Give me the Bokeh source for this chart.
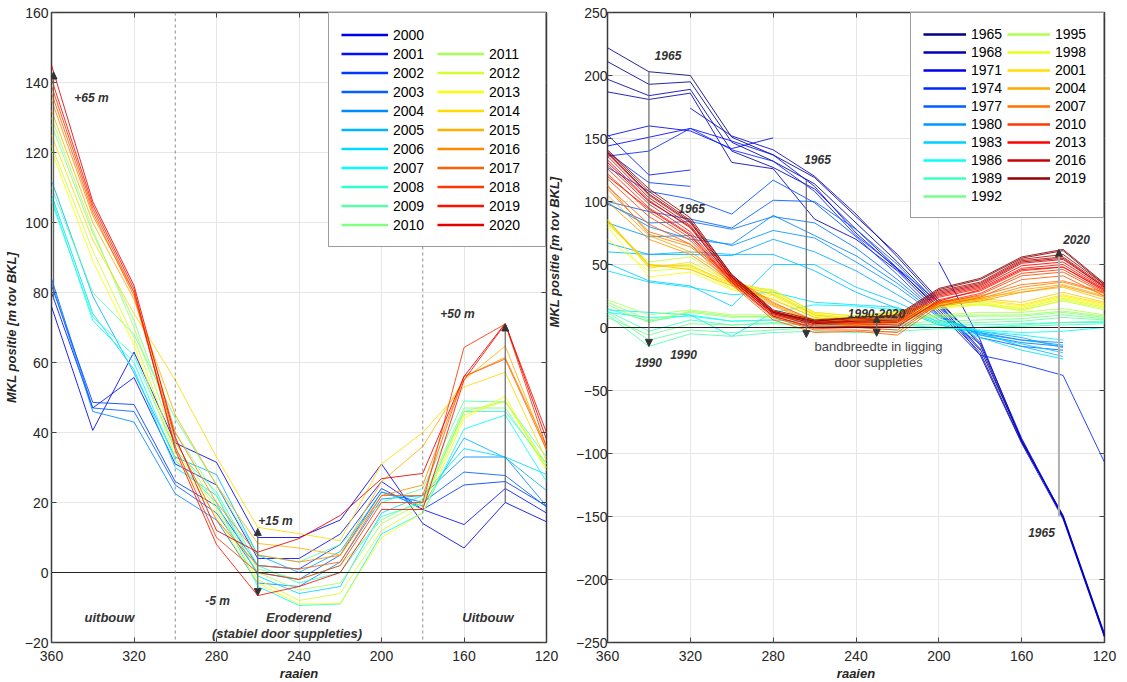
import math
import numpy as np
from bokeh.plotting import figure
from bokeh.layouts import row
from bokeh.models import (Range1d, Span, Label, Arrow, NormalHead, Legend, LegendItem,
                          LinearAxis, FixedTicker, CustomJSTickFormatter)
from bokeh.embed import file_html
from bokeh.resources import INLINE

nan = float("nan")

# ---------------- data ----------------
raaien = [360, 340, 320, 300, 280, 260, 240, 220, 200, 180, 160, 140, 120]

# left panel: MKL positie per raai, 2000-2020
mkl_2000 = [76, 40.6, 63, 37, 31.5, 10, 10, 15, 31, 14, 7, 20, 14.5]
mkl_2001 = [80, 47, 55.7, 31, 25, 4, 4, 11, 26, 18, 13.7, 24, 17]
mkl_2002 = [82, 48.6, 48, 26, 19, 2, 1, 8, 24, 18, 25, 26, 19]
mkl_2003 = [84, 47, 46, 25, 17, 0, -2, 5, 23, 20, 28.7, 27.7, 18.7]
mkl_2004 = [83, 46, 43, 22.5, 15, -3, -4, 3, 21, 22, 33, 33, 19]
mkl_2005 = [112, 79, 57, 33, 28, 5, 0, 6, 23, 19, 38.4, 32.8, 23.4]
mkl_2006 = [108, 74, 58, 30, 22, -1, -6, -4, 17, 22, 35.4, 33, 28]
mkl_2007 = [107, 72, 60, 32, 20, -4, -9.4, -9, 11, 17, 41, 45, 26]
mkl_2008 = [106, 73, 62, 35, 23, 2, -3, 0, 16, 20, 46, 46, 31]
mkl_2009 = [110, 80, 68, 44, 25, 5, 3, 8, 20, 24, 49, 48.7, 33]
mkl_2010 = [128, 97, 72, 40, 22, 1, -2, 2, 15, 21, 47, 47, 30]
mkl_2011 = [130, 98, 70, 37, 19, 0, -5, -3, 14, 20, 46, 49, 31]
mkl_2012 = [122, 92, 67, 35, 18, -2, -8, -6, 12, 19, 45, 49, 30]
mkl_2013 = [120.5, 89, 65, 33, 16, -3, -9, -8.9, 10, 17, 44, 50.4, 29]
mkl_2014 = [125, 95, 74, 55, 33, 12.9, 11.1, 9.1, 31, 40, 53, 57.2, 32]
mkl_2015 = [132, 100, 78, 45, 25, 8.3, 7, 5, 26, 36, 55, 64.7, 35]
mkl_2016 = [135, 102, 80, 40, 20, 5, 3, 4.9, 22, 25, 56, 61.4, 36]
mkl_2017 = [137, 103, 79, 38, 15, 2, 1, 3, 22, 22, 56, 61, 35]
mkl_2018 = [139, 104, 80, 36, 10, 0, -2, 2, 20, 20, 64.3, 71, 35.8]
mkl_2019 = [141, 105, 81, 35, 8, -6.6, -4, 0, 18, 18, 55, 71, 40]
mkl_2020 = [145, 106, 82, 38.7, 12, 5.8, 9.7, 16.3, 26.8, 28.3, 56, 71.2, 38]

left_years = list(range(2000, 2021))
left_series = [mkl_2000, mkl_2001, mkl_2002, mkl_2003, mkl_2004, mkl_2005, mkl_2006,
               mkl_2007, mkl_2008, mkl_2009, mkl_2010, mkl_2011, mkl_2012, mkl_2013,
               mkl_2014, mkl_2015, mkl_2016, mkl_2017, mkl_2018, mkl_2019, mkl_2020]

# right panel: MKL positie per raai, 1965-2020
r1965 = [222, 203, 200, 151, 137, 119, 88, 58, 22, -14, -90, -150, -245]
r1966 = [211, 193, 195, 147, 132, 114, 83, 52, 18, -17, -89, -151, -244]
r1967 = [197, 184, 189, 140, 127, 110, 78, 47, 14, -20, -91, -149, -243]
r1968 = [187, 181, 186, 131, 126, 86, 70, 45, 12, -22, -92, -152, -246]
r1969 = [nan, nan, 174, 152, 141, 120, 90, 56, 20, -12, -88, -150, -244]
r1970 = [nan, nan, nan, nan, nan, nan, nan, nan, 52, -10, -90, -151, -245]
r1971 = [152, 160, 156, 142, 150.5, nan, nan, nan, nan, nan, nan, nan, nan]
r1972 = [144, 151, 158, 148, 137, 112, 75, 46, 16, -18, nan, nan, nan]
r1973 = [153, 121, 125, nan, nan, nan, nan, nan, nan, nan, nan, nan, nan]
r1974 = [136, 140, 158, 141, 132, 108, 73, 47, 20, -22, -29, -38, -107]
r1975 = [139, 115, 112, nan, nan, nan, nan, nan, nan, nan, nan, nan, nan]
r1976 = [127, 108, 102, 90, 117, 99, 72, 42, 10, -13, nan, nan, nan]
r1977 = [100, 92, 86, 79, 101, 100, 78, 50, 16, -8, -15, -18, nan]
r1978 = [98, 83, 84, 78, 88, 83, 63, 38, 10, -6, -12, -15, nan]
r1979 = [99, 80, 70, 66, 89, 73, 57, 35, 9, -4, -10, -12, nan]
r1980 = [83, 72, 73, 65, 77, 71, 52, 32, 8, -5, -10, -14, nan]
r1981 = [67, 58, 58, 57, 70, 60, 45, 26, 6, -3, -8, -16, nan]
r1982 = [60, 58, 60, 58, 58, 45, 28, 15, 2, -4, -15, -23, nan]
r1983 = [51, 37, 33, 17, 50, 50, 32, 20, 4, -6, -13, -20, nan]
r1984 = [45, 36, 32, 26, 28, 20, 18, 16, 3, -8, -18, -25, nan]
r1985 = [14, 12, 10, -7, 12, 18, 17, 14, 5, -3, -6, -10, nan]
r1986 = [12, 8, 9, 5, 6, 4, 3, 2, 0, -2, -4, -3, 0]
r1988 = [15, 5, 10, 5, 6, 4, 3, 3, 2, 2, 3, 4, 4]
r1989 = [13, -3, 6, 2, 3, 2, 1, 0, 0, 0, 1, 2, 3]
r1990 = [10, -15, -5, -7, -4, -3, -4, -3, -1, 0, 2, 4, 5]
r1991 = [12, -10, -2, -4, -2, 0, 0, 1, 3, 4, 5, 8, 6]
r1992 = [8, -6, 3, 2, 4, 2, 2, 3, 5, 6, 7, 10, 7]
r1993 = [20, 6, 12, 8, 9, 6, 5, 6, 8, 9, 9, 12, 8]
r1994 = [18, 4, 13, 9, 8, 5, 5, 7, 9, 10, 10, 13, 9]
r1995 = [22, 10, 14, 10, 10, 7, 6, 8, 10, 12, 12, 15, 10]
r1996 = [82, 52, 56, 35, 28, 10, 8, 12, 17, 18, 14, 21, 14]
r1997 = [85, 48, 50, 33, 30, 12, 9, 13, 18, 20, 15, 23, 16]
r1998 = [70, 45, 47, 31, 25, 9, 6, 10, 16, 19, 13, 22, 15]
r1999 = [80, 40, 44, 30, 23, 8, 5, 9, 15, 18, 16, 24, 17]
r2000 = [83, 50, 48, 34, 27, 11, 7, 11, 19, 21, 17, 25, 18]
r2001 = [86, 47, 52, 36, 29, 12, 9, 12, 20, 22, 18, 26, 19]
r2002 = [84, 49, 49, 35, 26, 10, 6, 10, 21, 23, 20, 28, 20]
r2003 = [85, 50, 46, 33, 22, 8, 4, 6, 20, 24, 28, 32, 22]
r2004 = [105, 73, 60, 38, 18, 5, 2, 4, 18, 22, 30, 34, 25]
r2005 = [100, 70, 58, 36, 17, 4, 1, 3, 17, 21, 28, 33, 24]
r2006 = [113, 74, 64, 39, 19, 6, 3, 5, 19, 23, 32, 36, 27]
r2007 = [110, 76, 66, 40, 20, 5, 2, 4, 20, 25, 34, 37, 28]
r2008 = [112, 82, 66, 34, 6, -4, -3, -6, 17, 24, 38, 41, 25]
r2009 = [118, 88, 69, 35, 8, -2, -2, -4, 19, 26, 41, 44, 27]
r2010 = [122, 92, 71, 36, 9, -1, 0, -2, 20, 27, 43, 46, 28]
r2011 = [126, 95, 74, 37, 11, 1, 1, 0, 22, 29, 45, 48, 30]
r2012 = [129, 98, 76, 38, 10, 2, 3, 2, 24, 31, 47, 50, 30]
r2013 = [133, 101, 79, 39, 12, 3, 4, 4, 25, 32, 49, 52, 31]
r2014 = [120, 94, 73, 36, 9, 0, 1, 1, 21, 30, 46, 48, 29]
r2015 = [136, 103, 81, 40, 12, 4, 5, 5, 26, 33, 51, 54, 32]
r2016 = [138, 105, 83, 41, 13, 4, 6, 7, 28, 35, 53, 56, 33]
r2017 = [140, 108, 85, 42, 13, 5, 7, 8, 29, 36, 54, 58, 34]
r2018 = [131, 100, 80, 38, 11, 3, 5, 6, 27, 34, 52, 55, 32]
r2019 = [141, 110, 87, 42, 14, 6, 8, 10, 31, 39, 56, 62, 35]
r2020 = [139, 106, 84, 40, 12, 5, 8, 9, 30, 38, 55, 61, 34]

right_years = [1965, 1966, 1967, 1968, 1969, 1970, 1971, 1972, 1973, 1974, 1975, 1976,
               1977, 1978, 1979, 1980, 1981, 1982, 1983, 1984, 1985, 1986, 1988, 1989,
               1990, 1991, 1992, 1993, 1994, 1995, 1996, 1997, 1998, 1999, 2000, 2001,
               2002, 2003, 2004, 2005, 2006, 2007, 2008, 2009, 2010, 2011, 2012, 2013,
               2014, 2015, 2016, 2017, 2018, 2019, 2020]
right_series = [r1965, r1966, r1967, r1968, r1969, r1970, r1971, r1972, r1973, r1974, r1975,
                r1976, r1977, r1978, r1979, r1980, r1981, r1982, r1983, r1984, r1985, r1986,
                r1988, r1989, r1990, r1991, r1992, r1993, r1994, r1995, r1996, r1997, r1998,
                r1999, r2000, r2001, r2002, r2003, r2004, r2005, r2006, r2007, r2008, r2009,
                r2010, r2011, r2012, r2013, r2014, r2015, r2016, r2017, r2018, r2019, r2020]
right_legend_years = [1965, 1968, 1971, 1974, 1977, 1980, 1983, 1986, 1989, 1992,
                      1995, 1998, 2001, 2004, 2007, 2010, 2013, 2016, 2019]

left_yticks = [-20, 0, 20, 40, 60, 80, 100, 120, 140, 160]
right_yticks = [-250, -200, -150, -100, -50, 0, 50, 100, 150, 200, 250]
xticks = [360, 320, 280, 240, 200, 160, 120]
Y_LABEL = "MKL positie [m tov BKL]"

# ---------------- style ----------------
FONT = "Liberation Sans"
TXT = "#333333"


def jet(t):
    r = min(max(1.5 - abs(4 * t - 3), 0), 1)
    g = min(max(1.5 - abs(4 * t - 2), 0), 1)
    b = min(max(1.5 - abs(4 * t - 1), 0), 1)
    return "#%02x%02x%02x" % (round(r * 255), round(g * 255), round(b * 255))


def left_color(yr):
    return jet(0.1 + 0.8 * (yr - 2000) / 20)


def right_color(yr):
    return jet((yr - 1965) / 55)


def style_label(ax):
    ax.axis_label_text_font = FONT
    ax.axis_label_text_font_size = "13px"
    ax.axis_label_text_font_style = "bold italic"
    ax.axis_label_text_color = "#262626"
    ax.axis_label_text_line_height = 1.0


def make_fig(yr_range, yticks, fw, bl, br, tick_so, lab_so, ylabel, right_label=None):
    p = figure(x_range=Range1d(360, 120), y_range=Range1d(*yr_range),
               frame_width=fw, frame_height=630,
               min_border_left=bl, min_border_right=br, min_border_top=12, min_border_bottom=38,
               output_backend="svg", toolbar_location=None, background_fill_color="white",
               border_fill_color="white")
    p.extra_y_ranges = {"hidden": Range1d(100000, 100001)}
    p.outline_line_color = "#3a3a3a"
    p.outline_line_width = 1.5
    p.xaxis.ticker = FixedTicker(ticks=xticks)
    p.yaxis.ticker = FixedTicker(ticks=yticks)
    for ax in [p.xaxis[0], p.yaxis[0]]:
        ax.axis_line_color = None
        ax.major_tick_in = 5
        ax.major_tick_out = 0
        ax.major_tick_line_color = "#444444"
        ax.minor_tick_line_color = None
        ax.major_label_text_font = FONT
        ax.major_label_text_font_size = "14px"
        ax.major_label_text_color = "#262626"
        style_label(ax)
    p.xaxis.major_label_standoff = 8
    p.xaxis.axis_label_standoff = 2
    p.yaxis.major_label_standoff = tick_so
    p.yaxis.axis_label_standoff = lab_so
    p.xaxis.axis_label = "raaien"
    if ylabel:
        p.yaxis.axis_label = Y_LABEL
    p.xgrid.grid_line_color = "#e6e6e6"
    p.ygrid.grid_line_color = "#e6e6e6"
    # mirrored tick marks on top / right
    for loc, tk in [("right", yticks), ("above", xticks)]:
        ax = LinearAxis(ticker=FixedTicker(ticks=tk),
                        formatter=CustomJSTickFormatter(code="return ''"),
                        major_tick_in=5, major_tick_out=0, axis_line_color=None,
                        minor_tick_line_color=None, major_tick_line_color="#444444",
                        major_label_standoff=0, major_label_text_font_size="1px")
        if loc == "right" and right_label:
            ax.axis_label = right_label
            style_label(ax)
            ax.axis_label_orientation = math.pi / 2
            ax.axis_label_standoff = 8
        p.add_layout(ax, loc)
    p.add_layout(Span(location=0, dimension="width", line_color="#222222", line_width=1.2))
    return p


def add_label(p, x, y, text, size="12px", style="bold italic", color=TXT, align="center"):
    p.add_layout(Label(x=x, y=y, text=text, text_font=FONT, text_font_size=size,
                       text_font_style=style, text_color=color, text_align=align,
                       text_baseline="middle"))


def add_arrow(p, x, y0, y1, both=False, color="#666666", width=1.2):
    head = dict(size=7, fill_color="#333333", line_color="#333333")
    p.add_layout(Arrow(x_start=x, y_start=y0, x_end=x, y_end=y1,
                       start=NormalHead(**head) if both else None,
                       end=NormalHead(**head), line_color=color, line_width=width))


def legend_proxy(p, vals, color, alpha=1.0):
    # same series, drawn thick on an out-of-view range: only its legend glyph shows
    return p.line(raaien, vals, line_color=color, line_width=2.5, line_alpha=alpha,
                  y_range_name="hidden")


# ---------------- left figure ----------------
# (its right border carries the y-axis title of the right panel, as in the original)
p1 = make_fig((-20, 160), left_yticks, 495, 50, 22, 3, 3, True, right_label=Y_LABEL)
for xv in [300, 180]:
    p1.add_layout(Span(location=xv, dimension="height", line_color="#8a8a8a",
                       line_width=1, line_dash="3 3"))
for yr, vals in zip(left_years, left_series):
    p1.line(raaien, vals, line_color=left_color(yr), line_width=1, line_alpha=0.85)

add_arrow(p1, 359, 78, 143)
add_arrow(p1, 140, 20, 71)
add_arrow(p1, 260, -6.6, 12.6, both=True)
add_label(p1, 340.6, 135.7, "+65 m")
add_label(p1, 163.2, 74, "+50 m")
add_label(p1, 251.4, 14.6, "+15 m")
add_label(p1, 279.5, -8, "-5 m")
add_label(p1, 331.9, -12.9, "uitbouw", size="13px")
add_label(p1, 240.2, -12.9, "Eroderend", size="13px")
add_label(p1, 245.8, -17.4, "(stabiel door suppleties)", size="13px")
add_label(p1, 148.4, -12.9, "Uitbouw", size="13px")

items = []
for i, (yr, vals) in enumerate(zip(left_years, left_series)):
    r = legend_proxy(p1, vals, left_color(yr))
    items.append(LegendItem(label=str(yr), renderers=[r]))
    if i == 10:
        blank = legend_proxy(p1, vals, "white", alpha=0)
        items.append(LegendItem(label=" ", renderers=[blank]))
leg1 = Legend(items=items, location="top_right", nrows=11, orientation="vertical",
              glyph_width=47, glyph_height=19, label_height=19, label_width=44,
              label_standoff=5, spacing=0, padding=12, margin=0,
              border_line_color="#3a3a3a", border_line_width=1.5,
              background_fill_color="white", background_fill_alpha=1,
              label_text_font=FONT, label_text_font_size="14px", label_text_color="black")
p1.add_layout(leg1)

# ---------------- right figure ----------------
p2 = make_fig((-250, 250), right_yticks, 497, 33, 18, 0, 0, False)
for yr, vals in zip(right_years, right_series):
    p2.line(raaien, vals, line_color=right_color(yr), line_width=1, line_alpha=0.85)

add_arrow(p2, 340, 203, -15)
add_arrow(p2, 264, 117, -8)
add_arrow(p2, 230, -7, 9.5, both=True)
add_arrow(p2, 142, -150, 62, color="#b0b0b0", width=2)
add_label(p2, 330.8, 215.9, "1965")
add_label(p2, 319.4, 94.4, "1965")
add_label(p2, 258.6, 133.3, "1965")
add_label(p2, 150.4, -162.5, "1965")
add_label(p2, 340.2, -27.8, "1990")
add_label(p2, 323.3, -21.4, "1990")
add_label(p2, 230.1, 11.1, "1990-2020")
add_label(p2, 133.5, 69.8, "2020")
add_label(p2, 229.1, -15, "bandbreedte in ligging", size="13px", style="normal", color="#444444")
add_label(p2, 229.1, -27.8, "door suppleties", size="13px", style="normal", color="#444444")

items2 = []
right_lookup = dict(zip(right_years, right_series))
for yr in right_legend_years:
    r = legend_proxy(p2, right_lookup[yr], right_color(yr))
    items2.append(LegendItem(label=str(yr), renderers=[r]))
leg2 = Legend(items=items2, location="top_right", nrows=10, orientation="vertical",
              glyph_width=43, glyph_height=18, label_height=18, label_width=36,
              label_standoff=5, spacing=0, padding=12, margin=0,
              border_line_color="#3a3a3a", border_line_width=1.5,
              background_fill_color="white", background_fill_alpha=1,
              label_text_font=FONT, label_text_font_size="14px", label_text_color="black")
p2.add_layout(leg2)

layout = row(p1, p2)
open("out.html", "w").write(file_html(layout, INLINE))
